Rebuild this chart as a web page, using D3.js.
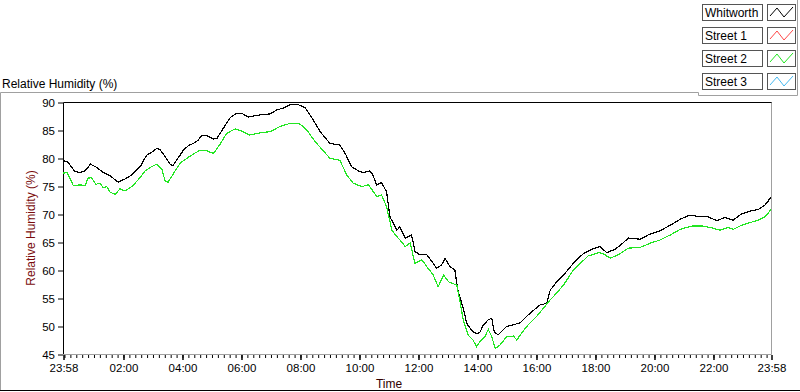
<!DOCTYPE html>
<html lang="en">
<head>
<meta charset="UTF-8">
<title>Relative Humidity (%)</title>
<script src="https://d3js.org/d3.v7.min.js"></script>
<style>
    body {
        margin: 0;
        background: white;
        font-family: "Liberation Sans", Arial, sans-serif;
    }
    svg text {
        font-family: "Liberation Sans", Arial, sans-serif;
    }
</style>
</head>
<body>
<div id="chart"></div>
<script>
// Whitworth readings (clock time, RH %)
const whitworthTime = ["23:58","00:06","00:12","00:22","00:33","00:43","00:54","01:07","01:20","01:34",
    "01:50","02:04","02:18","02:35","02:48","02:58","03:09","03:15","03:26","03:36",
    "03:41","03:49","04:03","04:13","04:23","04:33","04:40","04:50","05:04","05:11",
    "05:24","05:38","05:51","06:01","06:15","06:29","06:45","06:59","07:13","07:26",
    "07:40","07:57","08:10","08:19","08:27","08:41","09:01","09:21","09:32","09:45",
    "09:59","10:09","10:22","10:28","10:36","10:46","10:56","11:03","11:10","11:17",
    "11:23","11:34","11:47","11:54","12:04","12:18","12:31","12:38","12:48","12:55",
    "13:05","13:15","13:21","13:25","13:32","13:39","13:46","13:52","13:59","14:06",
    "14:13","14:23","14:30","14:35","14:43","14:50","15:00","15:14","15:28","15:48",
    "16:08","16:22","16:29","16:42","17:02","17:16","17:36","17:53","18:10","18:24",
    "18:41","18:54","19:08","19:32","19:48","20:12","20:33","20:53","21:13","21:34",
    "21:47","22:08","22:24","22:41","22:58","23:15","23:32","23:46","23:58"];
const whitworthRH = [79.5,79.4,78.8,77.6,77.4,77.7,78.9,78.3,77.4,76.8,
    75.7,76.25,77.0,78.45,80.5,81.0,81.7,81.55,80.2,78.9,
    78.6,79.6,81.4,82.2,82.6,83.2,84.0,84.0,83.4,83.5,
    85.3,87.2,88.0,88.0,87.3,87.55,87.8,87.85,88.6,88.9,
    89.5,89.5,89.0,87.9,86.8,84.7,82.6,82.3,80.8,78.45,
    77.7,77.4,77.7,77.0,75.2,75.6,74.0,69.5,68.3,67.1,
    67.7,65.7,66.25,63.3,62.7,62.7,61.2,60.3,60.9,62.1,
    60.6,60.0,56.4,55.2,53.2,50.5,49.6,49.0,48.6,48.9,
    50.2,51.1,51.4,49.0,48.4,49.0,49.9,50.2,50.6,52.3,
    53.75,54.05,56.4,57.9,59.7,61.2,62.9,63.7,64.2,63.1,
    63.7,64.6,65.7,65.5,66.25,67.0,68.0,69.05,69.8,69.5,
    69.6,68.8,69.4,68.9,70.0,70.5,70.8,71.6,73.0];

// Street 2 readings (clock time, RH %)
const street2Time = ["23:58","00:06","00:12","00:19","00:33","00:43","00:49","00:56","01:05","01:13",
    "01:20","01:27","01:34","01:44","01:54","02:04","02:18","02:31","02:45","02:58",
    "03:09","03:19","03:26","03:32","03:46","03:56","04:10","04:23","04:37","04:47",
    "05:04","05:17","05:31","05:48","06:01","06:18","06:39","06:59","07:19","07:40",
    "07:57","08:07","08:14","08:22","08:34","09:01","09:21","09:35","09:48","10:06",
    "10:19","10:26","10:36","10:46","10:56","11:07","11:17","11:23","11:34","11:44",
    "11:54","12:08","12:18","12:31","12:41","12:52","13:02","13:19","13:25","13:32",
    "13:42","13:52","13:59","14:06","14:16","14:23","14:30","14:37","14:47","15:00",
    "15:14","15:21","15:28","15:41","16:01","16:18","16:25","16:35","16:56","17:16",
    "17:46","18:07","18:17","18:31","18:47","19:08","19:32","19:53","20:12","20:33",
    "20:53","21:17","21:40","22:01","22:14","22:31","22:41","22:58","23:15","23:32",
    "23:46","23:58"];
const street2RH = [77.3,77.4,76.4,75.05,75.2,75.05,76.4,76.5,75.3,75.5,
    74.7,74.9,73.9,73.5,74.5,74.1,74.9,76.1,77.7,78.45,
    78.9,78.0,75.8,75.7,77.7,79.05,79.95,80.7,81.4,81.4,
    80.8,82.4,84.4,85.2,84.8,84.1,84.5,84.7,85.6,86.2,
    86.2,85.6,85.0,84.0,82.6,79.95,79.6,77.0,75.5,74.9,
    75.2,74.4,73.1,73.4,71.3,67.1,65.95,65.4,64.2,64.8,
    61.2,61.8,60.6,59.1,57.0,59.1,57.9,57.3,54.6,51.1,
    48.4,47.5,46.3,47.2,48.1,49.4,48.1,46.0,46.6,48.1,
    48.2,47.5,48.4,49.9,51.7,53.45,54.3,55.2,57.3,60.0,
    62.5,63.1,62.9,62.1,62.7,63.9,64.05,64.8,65.35,66.25,
    67.25,67.85,67.85,67.45,67.1,67.6,67.25,68.0,68.45,68.9,
    69.5,70.8];

const legendNames = ["Whitworth", "Street 1", "Street 2", "Street 3"];
const legendColors = ["#000000", "#ff4848", "#22e622", "#44b8f0"];
const yTicks = [45, 50, 55, 60, 65, 70, 75, 80, 85, 90];
const xTickLabels = ["23:58", "02:00", "04:00", "06:00", "08:00", "10:00", "12:00",
    "14:00", "16:00", "18:00", "20:00", "22:00", "23:58"];

// first reading belongs to the previous evening, the rest to the next day
function toDate(s, i) {
    const [h, m] = s.split(":").map(Number);
    return new Date(2020, 0, i === 0 ? 1 : 2, h, m);
}

const W = 800, H = 392;
const plot = { left: 63, right: 771, top: 102, bottom: 354 };

const svg = d3.select("#chart").append("svg")
    .attr("width", W)
    .attr("height", H);

const t0 = new Date(2020, 0, 1, 23, 58);
const t1 = new Date(2020, 0, 2, 23, 58);

const x = d3.scaleTime().domain([t0, t1]).range([plot.left, plot.right]);
const y = d3.scaleLinear().domain([45, 90]).range([plot.bottom, plot.top]);

// outer frame of the graph
svg.append("path")
    .attr("d", `M0.5,391 V92.5 H698.5 V95.5 H797.5 V0`)
    .attr("fill", "none")
    .attr("stroke", "#a0a0a0");
svg.append("line")
    .attr("x1", 0).attr("x2", W)
    .attr("y1", 390.5).attr("y2", 390.5)
    .attr("stroke", "#000");

svg.append("text")
    .attr("x", 2)
    .attr("y", 88)
    .style("font-size", "12px")
    .attr("fill", "#000")
    .text("Relative Humidity (%)");

// plot area borders
svg.append("path")
    .attr("d", `M${plot.left + 0.5},${plot.bottom} V${plot.top + 0.5} H${plot.right + 1}`)
    .attr("fill", "none")
    .attr("stroke", "#000");
svg.append("path")
    .attr("d", `M${plot.right + 0.5},${plot.top + 0.5} V${plot.bottom + 0.5} H${plot.left}`)
    .attr("fill", "none")
    .attr("stroke", "#a0a0a0");

// y axis
const yAxis = svg.append("g")
    .attr("transform", `translate(${plot.left},0.5)`)
    .call(d3.axisLeft(y).tickValues(yTicks).tickSize(5).tickSizeOuter(0).tickPadding(3));
yAxis.select(".domain").remove();
yAxis.selectAll("line").attr("stroke", "#000");
yAxis.selectAll("text")
    .attr("fill", "#000")
    .style("font-size", "11.5px")
    .style("font-family", "'Liberation Sans', Arial, sans-serif");

// x axis: minor ticks every 12 minutes, labelled majors every 2 hours
const minorTicks = d3.timeMinute.every(12).range(new Date(2020, 0, 2, 0, 0), t1);
const majorTicks = xTickLabels.map(toDate);

const xMinor = svg.append("g")
    .attr("transform", `translate(0.5,${plot.bottom + 1})`)
    .call(d3.axisBottom(x).tickValues(minorTicks).tickSize(3).tickFormat(""));
xMinor.select(".domain").remove();
xMinor.selectAll("line").attr("stroke", "#000");

const xAxis = svg.append("g")
    .attr("transform", `translate(0.5,${plot.bottom + 1})`)
    .call(d3.axisBottom(x).tickValues(majorTicks).tickSize(5).tickSizeOuter(0)
        .tickPadding(4).tickFormat(d3.timeFormat("%H:%M")));
xAxis.select(".domain").remove();
xAxis.selectAll("line").attr("stroke", "#000").attr("stroke-width", 1.5);
xAxis.selectAll("text")
    .attr("fill", "#000")
    .style("font-size", "11.5px")
    .style("font-family", "'Liberation Sans', Arial, sans-serif");

// axis titles
svg.append("text")
    .attr("x", 389)
    .attr("y", 388)
    .attr("text-anchor", "middle")
    .attr("fill", "#300000")
    .style("font-size", "12px")
    .text("Time");

svg.append("text")
    .attr("transform", `translate(35,${(plot.top + plot.bottom) / 2}) rotate(-90)`)
    .attr("text-anchor", "middle")
    .attr("fill", "#7a0c0c")
    .style("font-size", "12px")
    .text("Relative Humidity (%)");

// data lines, drawn aliased like the instrument display
const whitworth = whitworthTime.map((t, i) => ({ t: toDate(t, i), v: whitworthRH[i] }));
const street2 = street2Time.map((t, i) => ({ t: toDate(t, i), v: street2RH[i] }));

const line = d3.line()
    .x(d => x(d.t))
    .y(d => y(d.v));

svg.append("path")
    .datum(whitworth)
    .attr("d", line)
    .attr("fill", "none")
    .attr("stroke", legendColors[0])
    .attr("stroke-width", 1.2)
    .attr("shape-rendering", "crispEdges");

svg.append("path")
    .datum(street2)
    .attr("d", line)
    .attr("fill", "none")
    .attr("stroke", legendColors[2])
    .attr("stroke-width", 1.2)
    .attr("shape-rendering", "crispEdges");

// legend
const legend = svg.append("g").attr("class", "legend");
const items = legend.selectAll("g")
    .data(legendNames)
    .enter().append("g")
    .attr("transform", (d, i) => `translate(702,${4 + i * 23})`);

items.append("rect")
    .attr("x", 0.5).attr("y", 0.5)
    .attr("width", 60).attr("height", 16)
    .attr("fill", "white")
    .attr("stroke", "#555");

items.append("text")
    .attr("x", 3)
    .attr("y", 13)
    .attr("fill", "#000")
    .style("font-size", "12px")
    .text(d => d);

items.append("rect")
    .attr("x", 65.5).attr("y", 0.5)
    .attr("width", 28).attr("height", 16)
    .attr("fill", "white")
    .attr("stroke", "#555");

items.append("path")
    .attr("d", "M68,12 L75,4 L82,13 L91,3")
    .attr("fill", "none")
    .attr("stroke", (d, i) => legendColors[i])
    .attr("stroke-width", 1);
</script>
</body>
</html>
